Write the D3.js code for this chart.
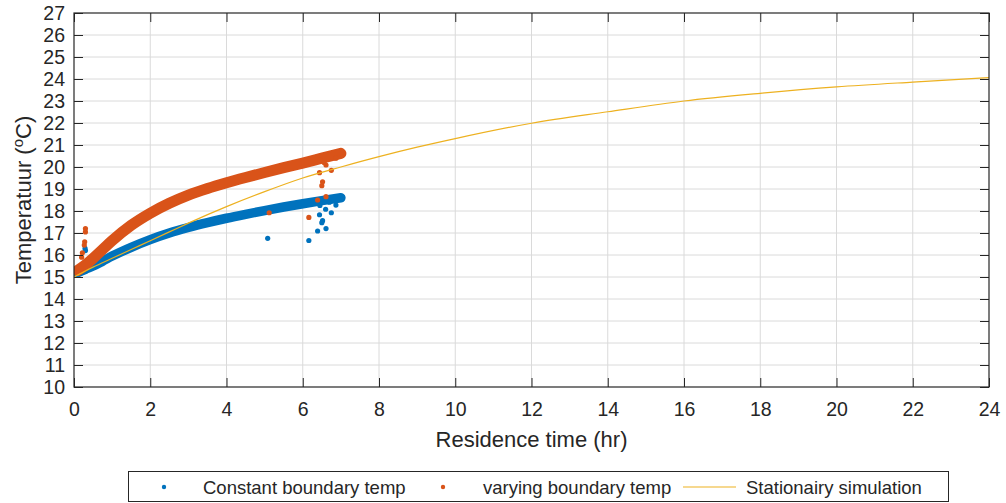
<!DOCTYPE html>
<html>
<head>
<meta charset="utf-8">
<script src="https://cdn.jsdelivr.net/npm/d3@7"></script>
<style>
  body { margin: 0; background: #fff; }
  text { font-family: Arial, 'Liberation Sans', sans-serif; fill: #262626; }
</style>
</head>
<body>
<div id="chart"></div>
<script>
/* global d3 */

// Data
const bandHours = [0.1, 0.3, 0.5, 0.75, 1, 1.5, 2, 2.5, 3, 3.5, 4, 4.5, 5, 5.5, 6, 6.5, 7]
const constantTemp = [15.2, 15.35, 15.5, 15.72, 15.95, 16.35, 16.7, 17.0, 17.25, 17.47, 17.67, 17.85, 18.02, 18.18, 18.33, 18.47, 18.6]
const varyingTemp = [15.3, 15.55, 15.85, 16.25, 16.65, 17.35, 17.9, 18.35, 18.72, 19.02, 19.28, 19.52, 19.75, 19.97, 20.18, 20.4, 20.62]

// stray points away from the dense bands
const constantOutHours = [0.29, 0.3, 5.08, 6.16, 6.39, 6.61, 6.52, 6.5, 6.44, 6.75, 6.6, 6.87, 6.45, 6.7]
const constantOutTemp = [16.3, 16.2, 16.76, 16.66, 17.09, 17.2, 17.56, 17.47, 17.83, 17.92, 18.08, 18.27, 18.25, 18.4]
const varyingOutHours = [0.3, 0.3, 0.28, 0.27, 0.22, 0.2, 5.12, 6.16, 6.39, 6.61, 6.5, 6.52, 6.44, 6.75, 6.61, 6.56, 6.87, 6.45]
const varyingOutTemp = [17.2, 17.05, 16.6, 16.45, 16.1, 15.9, 17.92, 17.71, 18.5, 18.65, 19.15, 19.33, 19.74, 19.85, 20.09, 20.2, 20.4, 20.32]

const simHours = [0, 0.5, 1, 1.5, 2, 2.5, 3, 4, 5, 6, 7, 8, 9, 10, 12, 14, 16, 18, 20, 22, 24]
const simTemp = [15.0, 15.45, 15.85, 16.25, 16.65, 17.05, 17.45, 18.2, 18.88, 19.5, 20.0, 20.47, 20.9, 21.29, 21.99, 22.51, 23.0, 23.35, 23.64, 23.86, 24.06]

const xTicks = d3.range(0, 25, 2)
const yTicks = d3.range(10, 28, 1)

const legendLabels = ['Constant boundary temp', 'varying boundary temp', 'Stationairy simulation']

// Our canvas
const width = 1006,
  height = 503
const margin = { top: 13, right: 17, bottom: 116, left: 74 }
const plotW = width - margin.left - margin.right
const plotH = height - margin.top - margin.bottom

const blue = '#0072BD',
  orange = '#D95319',
  yellow = '#EDB120'

let svg = d3.select('#chart')
  .append('svg')
  .attr('width', width)
  .attr('height', height)

const xScale = d3.scaleLinear().domain([0, 24]).range([0, plotW])
const yScale = d3.scaleLinear().domain([10, 27]).range([plotH, 0])

let plot = svg.append('g')
  .attr('transform', `translate(${margin.left}, ${margin.top})`)

// grid
plot.append('g')
  .selectAll('line')
  .data(xTicks.slice(1, -1))
  .enter()
  .append('line')
  .attr('x1', d => xScale(d)).attr('x2', d => xScale(d))
  .attr('y1', 0).attr('y2', plotH)
  .attr('stroke', '#dadada')
plot.append('g')
  .selectAll('line')
  .data(yTicks.slice(1, -1))
  .enter()
  .append('line')
  .attr('y1', d => yScale(d)).attr('y2', d => yScale(d))
  .attr('x1', 0).attr('x2', plotW)
  .attr('stroke', '#dadada')

// clip to the axes box
svg.append('clipPath').attr('id', 'clip')
  .append('rect').attr('width', plotW).attr('height', plotH)

let marks = plot.append('g').attr('clip-path', 'url(#clip)')

// dense scatter bands
const bandLine = (ys) => d3.line()
  .x((d, i) => xScale(bandHours[i]))
  .y((d, i) => yScale(ys[i]))
  .curve(d3.curveMonotoneX)(ys)

marks.append('path')
  .attr('d', bandLine(constantTemp))
  .attr('fill', 'none')
  .attr('stroke', blue)
  .attr('stroke-width', 9.5)
  .attr('stroke-linecap', 'round')

marks.append('path')
  .attr('d', bandLine(varyingTemp))
  .attr('fill', 'none')
  .attr('stroke', orange)
  .attr('stroke-width', 11)
  .attr('stroke-linecap', 'round')

marks.append('g')
  .selectAll('circle')
  .data(constantOutHours)
  .enter()
  .append('circle')
  .attr('cx', d => xScale(d))
  .attr('cy', (d, i) => yScale(constantOutTemp[i]))
  .attr('r', 2.6)
  .attr('fill', blue)

marks.append('g')
  .selectAll('circle')
  .data(varyingOutHours)
  .enter()
  .append('circle')
  .attr('cx', d => xScale(d))
  .attr('cy', (d, i) => yScale(varyingOutTemp[i]))
  .attr('r', 2.6)
  .attr('fill', orange)

// stationary simulation
marks.append('path')
  .attr('d', d3.line()
    .x((d, i) => xScale(simHours[i]))
    .y(d => yScale(d))
    .curve(d3.curveMonotoneX)(simTemp))
  .attr('fill', 'none')
  .attr('stroke', yellow)
  .attr('stroke-width', 1.2)

// axes, ticks inward on all four sides
const tickLen = 9
const styleAxis = (g) => {
  g.select('.domain').remove()
  g.selectAll('.tick line').attr('stroke', '#262626')
  g.selectAll('.tick text').style('font-size', '19.5px').attr('fill', '#262626')
}

plot.append('g')
  .attr('transform', `translate(0, ${plotH})`)
  .call(d3.axisBottom(xScale).tickValues(xTicks).tickSizeInner(-tickLen).tickSizeOuter(0).tickPadding(15))
  .call(styleAxis)
plot.append('g')
  .call(d3.axisTop(xScale).tickValues(xTicks).tickSizeInner(-tickLen).tickSizeOuter(0).tickFormat(''))
  .call(styleAxis)
plot.append('g')
  .call(d3.axisLeft(yScale).tickValues(yTicks).tickSizeInner(-tickLen).tickSizeOuter(0).tickPadding(9))
  .call(styleAxis)
plot.append('g')
  .attr('transform', `translate(${plotW}, 0)`)
  .call(d3.axisRight(yScale).tickValues(yTicks).tickSizeInner(-tickLen).tickSizeOuter(0).tickFormat(''))
  .call(styleAxis)

plot.append('rect')
  .attr('width', plotW)
  .attr('height', plotH)
  .attr('fill', 'none')
  .attr('stroke', '#262626')
  .attr('stroke-width', 1.2)

// axis labels
svg.append('text')
  .attr('x', margin.left + plotW / 2)
  .attr('y', 447)
  .attr('text-anchor', 'middle')
  .style('font-size', '22px')
  .text('Residence time (hr)')

let yLabel = svg.append('text')
  .attr('transform', `translate(31, ${margin.top + plotH / 2}) rotate(-90)`)
  .attr('text-anchor', 'middle')
  .style('font-size', '22px')
yLabel.append('tspan').text('Temperatuur (')
yLabel.append('tspan').attr('dy', -8).style('font-size', '15px').text('o')
yLabel.append('tspan').attr('dy', 8).text('C)')

// legend
let legend = svg.append('g')
legend.append('rect')
  .attr('x', 128.5).attr('y', 471.5)
  .attr('width', 820).attr('height', 30)
  .attr('fill', '#fff')
  .attr('stroke', '#262626')

const legendX = [203, 483, 746]
legend.append('circle').attr('cx', 164).attr('cy', 487).attr('r', 2.2).attr('fill', blue)
legend.append('circle').attr('cx', 443).attr('cy', 487).attr('r', 2.2).attr('fill', orange)
legend.append('line')
  .attr('x1', 683).attr('x2', 736)
  .attr('y1', 487).attr('y2', 487)
  .attr('stroke', yellow).attr('stroke-width', 1.2)

legend.selectAll('text.lab')
  .data(legendLabels)
  .enter()
  .append('text')
  .attr('class', 'lab')
  .attr('x', (d, i) => legendX[i])
  .attr('y', 494)
  .style('font-size', '18.5px')
  .text(d => d)
</script>
</body>
</html>
